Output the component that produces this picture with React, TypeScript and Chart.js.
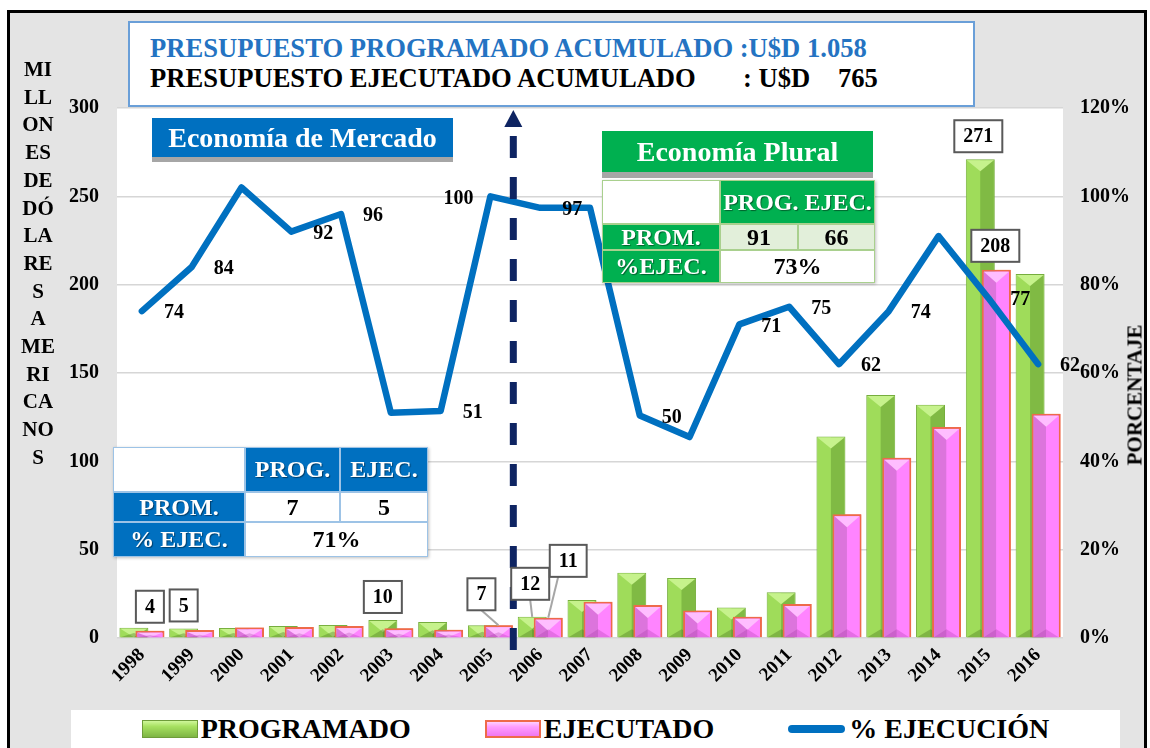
import React, { useEffect, useRef } from "react";
import { Chart, registerables } from "chart.js";

Chart.register(...registerables);

const SERIF = '"Liberation Serif", "Times New Roman", serif';

// ---------- data ----------
const YEARS = [
  "1998", "1999", "2000", "2001", "2002", "2003", "2004", "2005", "2006", "2007",
  "2008", "2009", "2010", "2011", "2012", "2013", "2014", "2015", "2016",
];
const PROGRAMADO = [5.8, 5.4, 5.7, 6.8, 7.4, 10.2, 9, 7.2, 12, 21.5, 37, 34, 17.2, 25.9, 114, 137.5, 132, 271, 206];
const EJECUTADO = [4.1, 4.5, 6, 6.2, 6.8, 5.5, 4.7, 7.2, 11.4, 20.5, 18.7, 15.5, 12, 19.2, 70, 102, 119.5, 208.4, 127];
const PCT_EJECUCION = [74, 84, 102, 92, 96, 51, 51.4, 100, 97.4, 97.4, 50.4, 45.5, 71, 75, 62, 74, 91, 77, 62];

const LEFT_MAX = 300;
const LEFT_STEP = 50;
const RIGHT_MAX = 120;
const RIGHT_STEP = 20;

const LEFT_AXIS_TITLE = ["MI", "LL", "ON", "ES", "DE", "DÓ", "LA", "RE", "S", "A", "ME", "RI", "CA", "NO", "S"];
const RIGHT_AXIS_TITLE = "PORCENTAJE";

const TITLE_LINE_1 = "PRESUPUESTO PROGRAMADO ACUMULADO :U$D 1.058";
const TITLE_LINE_2A = "PRESUPUESTO EJECUTADO ACUMULADO";
const TITLE_LINE_2B = ": U$D";
const TITLE_LINE_2C = "765";

// averages tables
const MERCADO_PROM = ["7", "5"];
const MERCADO_PCT = "71%";
const PLURAL_PROM = ["91", "66"];
const PLURAL_PCT = "73%";

// ---------- label layout config (not data) ----------
// side of the % label for each point: 1 right, -1 left, 0 hidden
const LINE_LABEL_SIDE = [1, 1, 0, 1, 1, 0, 1, -1, 1, 0, 1, 0, 1, 1, 1, 1, 0, 1, 1];
const BAR_LABELS = [
  { ds: 2, index: 0, dx: 0, gap: 8, leader: null as number | null },
  { ds: 1, index: 1, dx: 0, gap: 7, leader: null },
  { ds: 1, index: 5, dx: 0, gap: 7, leader: null },
  { ds: 2, index: 7, dx: -17, gap: 15, leader: 0 },
  { ds: 1, index: 8, dx: -2, gap: 17, leader: 0 },
  { ds: 2, index: 8, dx: 20, gap: 41, leader: -10 },
  { ds: 1, index: 17, dx: -2, gap: 7, leader: null },
  { ds: 2, index: 17, dx: -1, gap: 8, leader: null },
];

const plotBgPlugin = {
  id: "plotBg",
  beforeDraw(chart: any) {
    const { ctx, chartArea: a } = chart;
    ctx.save();
    ctx.fillStyle = "#ffffff";
    ctx.fillRect(a.left, a.top, a.right - a.left, a.bottom - a.top);
    ctx.restore();
  },
};

function drawBevel(ctx: CanvasRenderingContext2D, meta: any, isProg: boolean) {
  ctx.save();
  meta.data.forEach((el: any) => {
    const p = el.getProps(["x", "y", "base", "width"], true);
    const bw = isProg ? 1 : 2;
    const l = p.x - p.width / 2 + bw;
    const r = p.x + p.width / 2 - bw;
    const t = p.y + bw;
    const b = p.base;
    const h = b - t;
    if (h <= 0) return;
    const mid = p.x;
    ctx.fillStyle = isProg ? "#9FDC5A" : "#DC74DC";
    ctx.fillRect(l, t, mid - l, h);
    ctx.fillStyle = isProg ? "#80BA44" : "#FF84FF";
    ctx.fillRect(mid, t, r - mid, h);
    const d = Math.min(11, h);
    ctx.beginPath();
    ctx.moveTo(l, t);
    ctx.lineTo(r, t);
    ctx.lineTo(mid, t + d);
    ctx.closePath();
    ctx.fillStyle = isProg ? "#C6F28C" : "#FFBDFF";
    ctx.fill();
    const d2 = Math.min(8, h / 2);
    ctx.beginPath();
    ctx.moveTo(l, b);
    ctx.lineTo(r, b);
    ctx.lineTo(mid, b - d2);
    ctx.closePath();
    ctx.fillStyle = isProg ? "rgba(70,110,30,0.35)" : "rgba(150,40,150,0.25)";
    ctx.fill();
  });
  ctx.restore();
}

// green bars take the left slot (order 1); pink bars are re-drawn on top of them
const bevelPlugin = {
  id: "bevel",
  afterDatasetDraw(chart: any, args: any) {
    const meta = args.meta;
    if (meta.type !== "bar") return;
    const ctx = chart.ctx;
    if (meta.index === 1) {
      drawBevel(ctx, meta, true);
      const pink = chart.getDatasetMeta(2);
      ctx.save();
      pink.data.forEach((el: any) => el.draw(ctx, chart.chartArea));
      ctx.restore();
      drawBevel(ctx, pink, false);
    }
  },
};

const annotationPlugin = {
  id: "annotations",
  afterDatasetsDraw(chart: any) {
    const { ctx, chartArea: a, scales } = chart;
    ctx.save();

    // dashed divider with arrow between 2005 and 2006
    const xd = scales.x.getPixelForValue(7.5) - 2;
    ctx.strokeStyle = "#0E2462";
    ctx.lineWidth = 7;
    ctx.setLineDash([22, 19]);
    ctx.beginPath();
    ctx.moveTo(xd, a.bottom + 12);
    ctx.lineTo(xd, a.top + 19);
    ctx.stroke();
    ctx.setLineDash([]);
    ctx.fillStyle = "#0E2462";
    ctx.beginPath();
    ctx.moveTo(xd, a.top + 2);
    ctx.lineTo(xd + 9, a.top + 19);
    ctx.lineTo(xd - 9, a.top + 19);
    ctx.closePath();
    ctx.fill();

    // % labels on the line
    const lineMeta = chart.getDatasetMeta(0);
    ctx.font = `bold 20px ${SERIF}`;
    ctx.fillStyle = "#000";
    ctx.textAlign = "center";
    ctx.textBaseline = "middle";
    lineMeta.data.forEach((pt: any, i: number) => {
      const side = LINE_LABEL_SIDE[i];
      if (!side) return;
      ctx.fillText(String(Math.round(PCT_EJECUCION[i])), pt.x + side * 32, pt.y + 2);
    });

    // bar value boxes
    ctx.font = `bold 20px ${SERIF}`;
    BAR_LABELS.forEach((lb) => {
      const el = chart.getDatasetMeta(lb.ds).data[lb.index];
      const values = lb.ds === 1 ? PROGRAMADO : EJECUTADO;
      const text = String(Math.round(values[lb.index]));
      const tw = ctx.measureText(text).width;
      const w = tw + 18;
      const hgt = 32;
      const cx = el.x + lb.dx;
      const bottom = el.y - lb.gap;
      if (lb.leader !== null) {
        ctx.strokeStyle = "#A6A6A6";
        ctx.lineWidth = 2;
        ctx.beginPath();
        ctx.moveTo(cx + lb.leader, bottom);
        ctx.lineTo(el.x, el.y);
        ctx.stroke();
      }
      ctx.fillStyle = "#fff";
      ctx.fillRect(cx - w / 2, bottom - hgt, w, hgt);
      ctx.strokeStyle = "#595959";
      ctx.lineWidth = 2;
      ctx.strokeRect(cx - w / 2, bottom - hgt, w, hgt);
      ctx.fillStyle = "#000";
      ctx.fillText(text, cx, bottom - hgt / 2 + 1);
    });
    ctx.restore();
  },
};

const cell = (
  left: number, top: number, width: number, height: number,
  bg: string, border: string, color: string, shadow = false
): React.CSSProperties => ({
  position: "absolute", left, top, width, height, boxSizing: "border-box",
  background: bg, border: `1.5px solid ${border}`, color,
  display: "flex", alignItems: "center", justifyContent: "center",
  fontFamily: SERIF, fontWeight: "bold", fontSize: 24,
  textShadow: shadow ? "1px 1px 1px rgba(0,0,0,0.45)" : "none",
});

export default function App() {
  const canvasRef = useRef<HTMLCanvasElement | null>(null);

  useEffect(() => {
    document.body.style.margin = "0";
    const font = { family: SERIF, size: 20, weight: "bold" as const };
    const chart = new Chart(canvasRef.current as HTMLCanvasElement, {
      type: "bar",
      data: {
        labels: YEARS,
        datasets: [
          {
            type: "line",
            label: "% EJECUCIÓN",
            data: PCT_EJECUCION,
            yAxisID: "y1",
            borderColor: "#0070C0",
            backgroundColor: "#0070C0",
            borderWidth: 6.5,
            pointRadius: 0,
            tension: 0,
            borderCapStyle: "round",
            borderJoinStyle: "round",
            order: 0,
          } as any,
          {
            type: "bar",
            label: "PROGRAMADO",
            data: PROGRAMADO,
            yAxisID: "y",
            backgroundColor: "#92D050",
            borderColor: "#76AD3E",
            borderWidth: 1,
            categoryPercentage: 0.643,
            barPercentage: 1.81,
            order: 1,
          },
          {
            type: "bar",
            label: "EJECUTADO",
            data: EJECUTADO,
            yAxisID: "y",
            backgroundColor: "#FF80FF",
            borderColor: "#EE6A4A",
            borderWidth: 2,
            categoryPercentage: 0.643,
            barPercentage: 1.81,
            order: 2,
          },
        ],
      },
      options: {
        responsive: false,
        animation: false,
        devicePixelRatio: 1,
        layout: { padding: { top: 108, left: 0, right: 0, bottom: 0 } },
        plugins: {
          legend: { display: false },
          tooltip: { enabled: false },
          title: { display: false },
        },
        scales: {
          x: {
            grid: { display: false, drawTicks: false },
            border: { display: false },
            ticks: {
              autoSkip: false, maxRotation: 45, minRotation: 45,
              color: "#000", padding: 6,
              font: { family: SERIF, size: 19, weight: "bold" },
            },
            afterFit: (s: any) => { s.height = 110; },
          },
          y: {
            position: "left", min: 0, max: LEFT_MAX,
            ticks: { stepSize: LEFT_STEP, color: "#000", padding: 18, font },
            grid: { color: "#D6D6D6", lineWidth: 1.5, drawTicks: false },
            border: { display: false },
            afterFit: (s: any) => { s.width = 117; },
          },
          y1: {
            position: "right", min: 0, max: RIGHT_MAX,
            ticks: { stepSize: RIGHT_STEP, color: "#000", padding: 17, font, callback: (v: any) => `${v}%` },
            grid: { display: false, drawTicks: false },
            border: { display: false },
            afterFit: (s: any) => { s.width = 87; },
          },
        },
      },
      plugins: [plotBgPlugin, bevelPlugin, annotationPlugin],
    } as any);
    return () => chart.destroy();
  }, []);

  const blue = "#0070C0";
  const blueBorder = "#9DC3E6";
  const green = "#00B050";
  const greenBorder = "#A9D08E";

  return (
    <div style={{ position: "relative", width: 1150, height: 748, background: "#fff", overflow: "hidden", fontFamily: SERIF }}>
      {/* frame + grey background */}
      <div style={{
        position: "absolute", left: 7, top: 10, width: 1140, height: 760, boxSizing: "border-box",
        borderLeft: "3px solid #000", borderTop: "3px solid #000", borderRight: "3px solid #000",
        background: "#E4E4E4",
      }} />
      <canvas ref={canvasRef} width={1150} height={748} style={{ position: "absolute", left: 0, top: 0 }} />

      {/* title box */}
      <div style={{
        position: "absolute", left: 128, top: 21, width: 847, height: 86, boxSizing: "border-box",
        border: "2px solid #6A9FD8", background: "#fff", fontWeight: "bold", fontSize: 26.6, lineHeight: "26px",
      }}>
        <div style={{ position: "absolute", left: 20, top: 12, color: "#2473C2", whiteSpace: "nowrap" }}>{TITLE_LINE_1}</div>
        <div style={{ position: "absolute", left: 20, top: 42, color: "#000", whiteSpace: "nowrap" }}>{TITLE_LINE_2A}</div>
        <div style={{ position: "absolute", left: 613, top: 42, color: "#000", whiteSpace: "nowrap" }}>{TITLE_LINE_2B}</div>
        <div style={{ position: "absolute", left: 708, top: 42, color: "#000", whiteSpace: "nowrap" }}>{TITLE_LINE_2C}</div>
      </div>

      {/* left axis title */}
      <div style={{ position: "absolute", left: 17, top: 56, width: 42, textAlign: "center", fontWeight: "bold", fontSize: 21, lineHeight: "27.7px", color: "#000" }}>
        {LEFT_AXIS_TITLE.map((t, i) => <div key={i}>{t}</div>)}
      </div>

      {/* right axis title */}
      <div style={{
        position: "absolute", left: 1135, top: 395, transform: "translate(-50%, -50%) rotate(-90deg)",
        fontWeight: "bold", fontSize: 21, whiteSpace: "nowrap", color: "#000",
      }}>{RIGHT_AXIS_TITLE}</div>

      {/* Economía de Mercado */}
      <div style={{
        position: "absolute", left: 152, top: 118, width: 301, height: 39, background: blue,
        boxShadow: "0 5px 0 #A6A6A6", color: "#fff", fontWeight: "bold", fontSize: 28, lineHeight: "39px", textAlign: "center",
      }}>Economía de Mercado</div>

      {/* Economía Plural */}
      <div style={{
        position: "absolute", left: 602, top: 131, width: 271, height: 41, background: green,
        boxShadow: "0 6px 0 #A6A6A6", color: "#fff", fontWeight: "bold", fontSize: 28, lineHeight: "41px", textAlign: "center",
      }}>Economía Plural</div>

      {/* Plural table */}
      <div style={{ position: "absolute", left: 602, top: 180, width: 273, height: 103, boxShadow: "1px 1px 3px rgba(0,0,0,0.25)" }}>
        <div style={cell(0, 0, 118, 44, "#fff", greenBorder, "#000")} />
        <div style={cell(118, 0, 155, 44, green, greenBorder, "#fff", true)}>PROG. EJEC.</div>
        <div style={cell(0, 44, 118, 26, green, greenBorder, "#fff", true)}>PROM.</div>
        <div style={cell(118, 44, 78, 26, "#E2EFDA", greenBorder, "#000")}>{PLURAL_PROM[0]}</div>
        <div style={cell(196, 44, 77, 26, "#E2EFDA", greenBorder, "#000")}>{PLURAL_PROM[1]}</div>
        <div style={cell(0, 70, 118, 33, green, greenBorder, "#fff", true)}>%EJEC.</div>
        <div style={cell(118, 70, 155, 33, "#fff", greenBorder, "#000")}>{PLURAL_PCT}</div>
      </div>

      {/* Mercado table */}
      <div style={{ position: "absolute", left: 113, top: 447, width: 315, height: 110, boxShadow: "1px 1px 3px rgba(0,0,0,0.25)" }}>
        <div style={cell(0, 0, 132, 45, "#fff", blueBorder, "#000")} />
        <div style={cell(132, 0, 95, 45, blue, blueBorder, "#fff", true)}>PROG.</div>
        <div style={cell(227, 0, 88, 45, blue, blueBorder, "#fff", true)}>EJEC.</div>
        <div style={cell(0, 45, 132, 30, blue, blueBorder, "#fff", true)}>PROM.</div>
        <div style={cell(132, 45, 95, 30, "#fff", blueBorder, "#000")}>{MERCADO_PROM[0]}</div>
        <div style={cell(227, 45, 88, 30, "#fff", blueBorder, "#000")}>{MERCADO_PROM[1]}</div>
        <div style={cell(0, 75, 132, 35, blue, blueBorder, "#fff", true)}>% EJEC.</div>
        <div style={cell(132, 75, 183, 35, "#fff", blueBorder, "#000")}>{MERCADO_PCT}</div>
      </div>

      {/* legend */}
      <div style={{
        position: "absolute", left: 71, top: 710, width: 1049, height: 38, background: "#fff",
        display: "flex", alignItems: "center", justifyContent: "center",
        fontWeight: "bold", fontSize: 28, lineHeight: "38px", color: "#000",
      }}>
        <div style={{ display: "flex", alignItems: "center" }}>
          <div style={{ width: 56, height: 18, boxSizing: "border-box", border: "1px solid #6E9C3A", background: "linear-gradient(#CFF79A 0%, #A6E060 35%, #7EB544 100%)", marginRight: 3 }} />
          <span>PROGRAMADO</span>
        </div>
        <div style={{ display: "flex", alignItems: "center", marginLeft: 74 }}>
          <div style={{ width: 56, height: 18, boxSizing: "border-box", border: "2px solid #EE6A4A", background: "linear-gradient(#FFD0FF 0%, #FF9CFF 35%, #F077F0 100%)", marginRight: 3 }} />
          <span>EJECUTADO</span>
        </div>
        <div style={{ display: "flex", alignItems: "center", marginLeft: 74 }}>
          <div style={{ width: 57, height: 8, borderRadius: 4, background: "#0070C0", marginRight: 4 }} />
          <span>% EJECUCIÓN</span>
        </div>
      </div>
    </div>
  );
}
